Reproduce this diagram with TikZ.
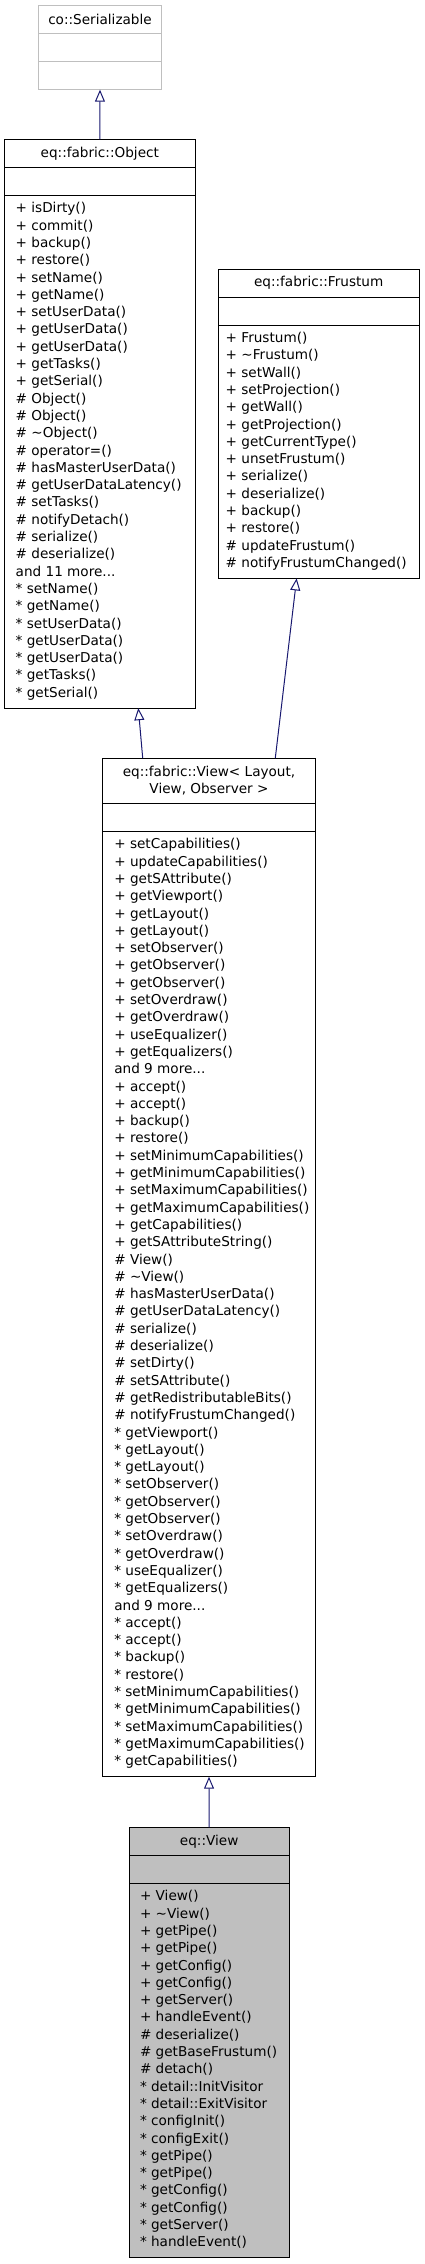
\documentclass[tikz,border=0pt]{standalone}
\usepackage{fontspec}
\setmainfont{DejaVu Sans}
\usepackage{xcolor}
\definecolor{edgeblue}{RGB}{25,25,112}
\definecolor{boxgray}{RGB}{191,191,191}
\usepackage{tikz}
\usetikzlibrary{arrows.meta, positioning}
\newcommand{\fstrut}{\rule{0pt}{17.5pt}}
\newcommand{\tld}{\textasciitilde}

\begin{document}
\begin{tikzpicture}[x=1pt, y=1pt,
    every node/.style={font=\fontsize{13.6}{17.3}\selectfont},
    classbox/.style={draw=black, line width=1pt, inner sep=0pt, outer sep=0pt, align=center, minimum height=28pt},
    extbox/.style={classbox, draw=boxgray},
    focusbox/.style={classbox, fill=boxgray},
    members/.style={anchor=north west, inner sep=0pt, outer sep=0pt, align=left},
    inherit/.style={draw=edgeblue, line width=1pt, -{Triangle[open, length=12pt, width=10pt]}}
]
        \useasboundingbox (0,0) rectangle (424,-2264);

        % co::Serializable
        \node[extbox, anchor=north west, minimum width=122.6pt] (sertitle) at (38.7,-5.7) {co::Serializable};
        \node[extbox, below=0pt of sertitle, minimum width=122.6pt] (serattr) {};
        \node[extbox, below=0pt of serattr, minimum width=122.6pt] (serbody) {};

        % eq::fabric::Object
        \node[classbox, anchor=north west, minimum width=191pt] (objtitle) at (4.3,-139.3) {eq::fabric::Object};
        \node[classbox, below=0pt of objtitle, minimum width=191pt] (objattr) {};
        \node[classbox, below=0pt of objattr, minimum width=191pt, minimum height=512.9pt] (objbody) {};
        \node[members] (objtext) at ([xshift=11.4pt]objbody.north west) {\fstrut+ isDirty()\\
            + commit()\\ + backup()\\ + restore()\\ + setName()\\ + getName()\\
            + setUserData()\\ + getUserData()\\ + getUserData()\\ + getTasks()\\ + getSerial()\\
            \# Object()\\ \# Object()\\ \# \tld Object()\\ \# operator=()\\ \# hasMasterUserData()\\
            \# getUserDataLatency()\\ \# setTasks()\\ \# notifyDetach()\\ \# serialize()\\ \# deserialize()\\
            and 11 more...\\
            * setName()\\ * getName()\\ * setUserData()\\ * getUserData()\\ * getUserData()\\
            * getTasks()\\ * getSerial()};

        % eq::fabric::Frustum
        \node[classbox, anchor=north west, minimum width=200.7pt] (frutitle) at (218.3,-269) {eq::fabric::Frustum};
        \node[classbox, below=0pt of frutitle, minimum width=200.7pt] (fruattr) {};
        \node[classbox, below=0pt of fruattr, minimum width=200.7pt, minimum height=253.4pt] (frubody) {};
        \node[members] (frutext) at ([xshift=7.4pt]frubody.north west) {\fstrut+ Frustum()\\
            + \tld Frustum()\\ + setWall()\\ + setProjection()\\ + getWall()\\ + getProjection()\\
            + getCurrentType()\\ + unsetFrustum()\\ + serialize()\\ + deserialize()\\ + backup()\\
            + restore()\\ \# updateFrustum()\\ \# notifyFrustumChanged()};

        % eq::fabric::View< Layout, View, Observer >
        \node[classbox, anchor=north west, minimum width=212.6pt, minimum height=45.3pt] (viewtitle) at (102.7,-758) {eq::fabric::View< Layout,\\ View, Observer >};
        \node[classbox, below=0pt of viewtitle, minimum width=212.6pt] (viewattr) {};
        \node[classbox, below=0pt of viewattr, minimum width=212.6pt, minimum height=945.4pt] (viewbody) {};
        \node[members] (viewtext) at ([xshift=11.6pt]viewbody.north west) {\fstrut+ setCapabilities()\\
            + updateCapabilities()\\ + getSAttribute()\\ + getViewport()\\ + getLayout()\\ + getLayout()\\
            + setObserver()\\ + getObserver()\\ + getObserver()\\ + setOverdraw()\\ + getOverdraw()\\
            + useEqualizer()\\ + getEqualizers()\\
            and 9 more...\\
            + accept()\\ + accept()\\ + backup()\\ + restore()\\ + setMinimumCapabilities()\\
            + getMinimumCapabilities()\\ + setMaximumCapabilities()\\ + getMaximumCapabilities()\\
            + getCapabilities()\\ + getSAttributeString()\\
            \# View()\\ \# \tld View()\\ \# hasMasterUserData()\\ \# getUserDataLatency()\\ \# serialize()\\
            \# deserialize()\\ \# setDirty()\\ \# setSAttribute()\\ \# getRedistributableBits()\\
            \# notifyFrustumChanged()\\
            * getViewport()\\ * getLayout()\\ * getLayout()\\ * setObserver()\\ * getObserver()\\
            * getObserver()\\ * setOverdraw()\\ * getOverdraw()\\ * useEqualizer()\\ * getEqualizers()\\
            and 9 more...\\
            * accept()\\ * accept()\\ * backup()\\ * restore()\\ * setMinimumCapabilities()\\
            * getMinimumCapabilities()\\ * setMaximumCapabilities()\\ * getMaximumCapabilities()\\
            * getCapabilities()};

        % eq::View
        \node[focusbox, anchor=north west, minimum width=160.3pt] (eqtitle) at (129,-1827.3) {eq::View};
        \node[focusbox, below=0pt of eqtitle, minimum width=160.3pt] (eqattr) {};
        \node[focusbox, below=0pt of eqattr, minimum width=160.3pt, minimum height=374.5pt] (eqbody) {};
        \node[members] (eqtext) at ([xshift=11pt]eqbody.north west) {\fstrut+ View()\\
            + \tld View()\\ + getPipe()\\ + getPipe()\\ + getConfig()\\ + getConfig()\\ + getServer()\\
            + handleEvent()\\ \# deserialize()\\ \# getBaseFrustum()\\ \# detach()\\
            * detail::InitVisitor\\ * detail::ExitVisitor\\ * configInit()\\ * configExit()\\
            * getPipe()\\ * getPipe()\\ * getConfig()\\ * getConfig()\\ * getServer()\\ * handleEvent()};

        % Inheritance
        \draw[inherit] (objtitle.north) -- (serbody.south);
        \draw[inherit] ([xshift=-66.3pt]viewtitle.north) -- ([xshift=38.5pt]objbody.south);
        \draw[inherit] ([xshift=66.3pt]viewtitle.north) -- ([xshift=-22pt]frubody.south);
        \draw[inherit] (eqtitle.north) -- (viewbody.south);
    \end{tikzpicture}
\end{document}
